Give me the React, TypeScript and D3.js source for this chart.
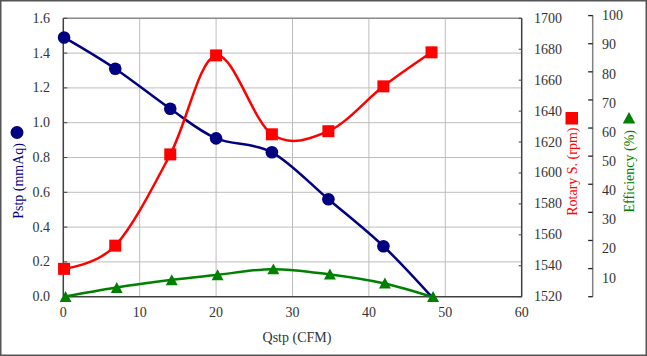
import React from "react";
import * as d3 from "d3";

const qstp = [0.1, 6.8, 14.0, 20.0, 27.3, 34.7, 41.9, 48.2];
const pstp = [1.49, 1.31, 1.08, 0.91, 0.83, 0.56, 0.29, 0.0];
const rotary = [1538, 1553, 1612, 1676, 1625, 1627, 1656, 1678];
const efficiency = [0, 3.2, 5.9, 7.7, 9.8, 8.0, 4.8, 0];

const xTicks = [0, 10, 20, 30, 40, 50, 60];
const pTicks = [0, 0.2, 0.4, 0.6, 0.8, 1.0, 1.2, 1.4, 1.6];
const rTicks = [1520, 1540, 1560, 1580, 1600, 1620, 1640, 1660, 1680, 1700];
const eTicks = [0, 10, 20, 30, 40, 50, 60, 70, 80, 90, 100];
const eLabels = [10, 20, 30, 40, 50, 60, 70, 80, 90, 100];

const W = 647, H = 356;
const L = 63.3, R = 521.7, T = 18.3, B = 296.7;
const FONT = '"Liberation Serif", "DejaVu Serif", serif';
const NAVY = "#000080", RED = "#ff0000", GREEN = "#008000";

export default function App() {
  const x = d3.scaleLinear().domain([0, 60]).range([L, R]);
  const yP = d3.scaleLinear().domain([0, 1.6]).range([B, T]);
  const yR = d3.scaleLinear().domain([1520, 1700]).range([B, T]);
  const yE = d3.scaleLinear().domain([0, 100]).range([B, 15.6]);
  const yEL = d3.scaleLinear().domain([0, 100]).range([307.2, 15.7]);
  const EX = 592.7;

  const curve = d3.curveCardinal.tension(0);
  const mk = (ys: number[], sc: d3.ScaleLinear<number, number>) =>
    d3.line<number>().x((_, i) => x(qstp[i])).y((d) => sc(d)).curve(curve)(ys) || "";

  const tri = (cx: number, cy: number, s = 12) =>
    `M${cx},${cy - s * 0.5} L${cx + s * 0.52},${cy + s * 0.45} L${cx - s * 0.52},${cy + s * 0.45} Z`;

  const ts = { fontFamily: FONT };

  return (
    <svg width={W} height={H} style={{ position: "fixed", left: 0, top: 0, background: "#fff", fontFamily: FONT }}>
      <rect x={0.75} y={0.75} width={W - 1.5} height={H - 1.5} fill="#fff" stroke="#555" strokeWidth={1.5} />
      {/* grid */}
      {pTicks.slice(1, -1).map((t) => (
        <line key={"gy" + t} x1={L} x2={R} y1={yP(t)} y2={yP(t)} stroke="#bdbdbd" strokeWidth={1} />
      ))}
      {xTicks.slice(1, -1).map((t) => (
        <line key={"gx" + t} x1={x(t)} x2={x(t)} y1={T} y2={B} stroke="#bdbdbd" strokeWidth={1} />
      ))}
      <line x1={L} x2={R} y1={T} y2={T} stroke="#8a8a8a" strokeWidth={1.5} />
      <line x1={L} x2={L} y1={T} y2={B} stroke="#404040" strokeWidth={1.5} />
      <line x1={R} x2={R} y1={T} y2={B} stroke="#404040" strokeWidth={1.5} />
      <line x1={L} x2={R} y1={B} y2={B} stroke="#404040" strokeWidth={1.5} />
      {/* left ticks */}
      {pTicks.map((t) => (
        <g key={"pt" + t}>
          <line x1={L} x2={L + 4} y1={yP(t)} y2={yP(t)} stroke="#404040" strokeWidth={1} />
          <text style={ts} x={50} y={yP(t)} textAnchor="end" dominantBaseline="central" fontSize={14} fill="#333">
            {t.toFixed(1)}
          </text>
        </g>
      ))}
      {/* x ticks */}
      {xTicks.map((t) => (
        <text style={ts} key={"xt" + t} x={x(t)} y={312.5} textAnchor="middle" dominantBaseline="central" fontSize={14} fill="#333">
          {t}
        </text>
      ))}
      {/* rotary ticks */}
      {rTicks.map((t) => (
        <g key={"rt" + t}>
          <line x1={R - 3} x2={R} y1={yR(t)} y2={yR(t)} stroke="#404040" strokeWidth={1} />
          <text style={ts} x={534} y={yR(t)} textAnchor="start" dominantBaseline="central" fontSize={14} fill="#333">
            {t}
          </text>
        </g>
      ))}
      {/* efficiency axis */}
      <line x1={EX} x2={EX} y1={yE(100) - 0.3} y2={B} stroke="#808080" strokeWidth={1.5} />
      {eTicks.map((t) => (
        <line key={"et" + t} x1={EX - 4.5} x2={EX} y1={yE(t)} y2={yE(t)} stroke="#222" strokeWidth={1.3} />
      ))}
      {eLabels.map((t) => (
        <text style={ts} key={"el" + t} x={602} y={yEL(t)} textAnchor="start" dominantBaseline="central" fontSize={14} fill="#333">
          {t}
        </text>
      ))}
      {/* titles */}
      <text style={ts} x={297} y={337} textAnchor="middle" dominantBaseline="central" fontSize={14} fill="#333">
        Qstp (CFM)
      </text>
      <circle cx={17} cy={132.5} r={6.5} fill={NAVY} />
      <text style={ts} transform="translate(18,143) rotate(-90)" textAnchor="end" dominantBaseline="central" fontSize={14} fill={NAVY}>
        Pstp (mmAq)
      </text>
      <rect x={565.5} y={112} width={12.5} height={12.5} fill={RED} />
      <text style={ts} transform="translate(572,127.5) rotate(-90)" textAnchor="end" dominantBaseline="central" fontSize={14} fill={RED}>
        Rotary S. (rpm)
      </text>
      <path d={tri(629, 118)} fill={GREEN} />
      <text style={ts} transform="translate(629,130) rotate(-90)" textAnchor="end" dominantBaseline="central" fontSize={14} fill={GREEN}>
        Efficiency (%)
      </text>
      {/* series */}
      <path d={mk(pstp, yP)} fill="none" stroke={NAVY} strokeWidth={2.5} />
      {pstp.slice(0, -1).map((v, i) => (
        <circle key={"pc" + i} cx={x(qstp[i])} cy={yP(v)} r={6.3} fill={NAVY} />
      ))}
      <path d={mk(rotary, yR)} fill="none" stroke={RED} strokeWidth={2.5} />
      {rotary.map((v, i) => (
        <rect key={"rs" + i} x={x(qstp[i]) - 6} y={yR(v) - 6} width={12} height={12} fill={RED} />
      ))}
      <path d={mk(efficiency, yE)} fill="none" stroke={GREEN} strokeWidth={2.5} />
      {efficiency.map((v, i) => (
        <path key={"em" + i} d={tri(x(qstp[i]) + 1.5, yE(v), 11.5)} fill={GREEN} />
      ))}
    </svg>
  );
}
